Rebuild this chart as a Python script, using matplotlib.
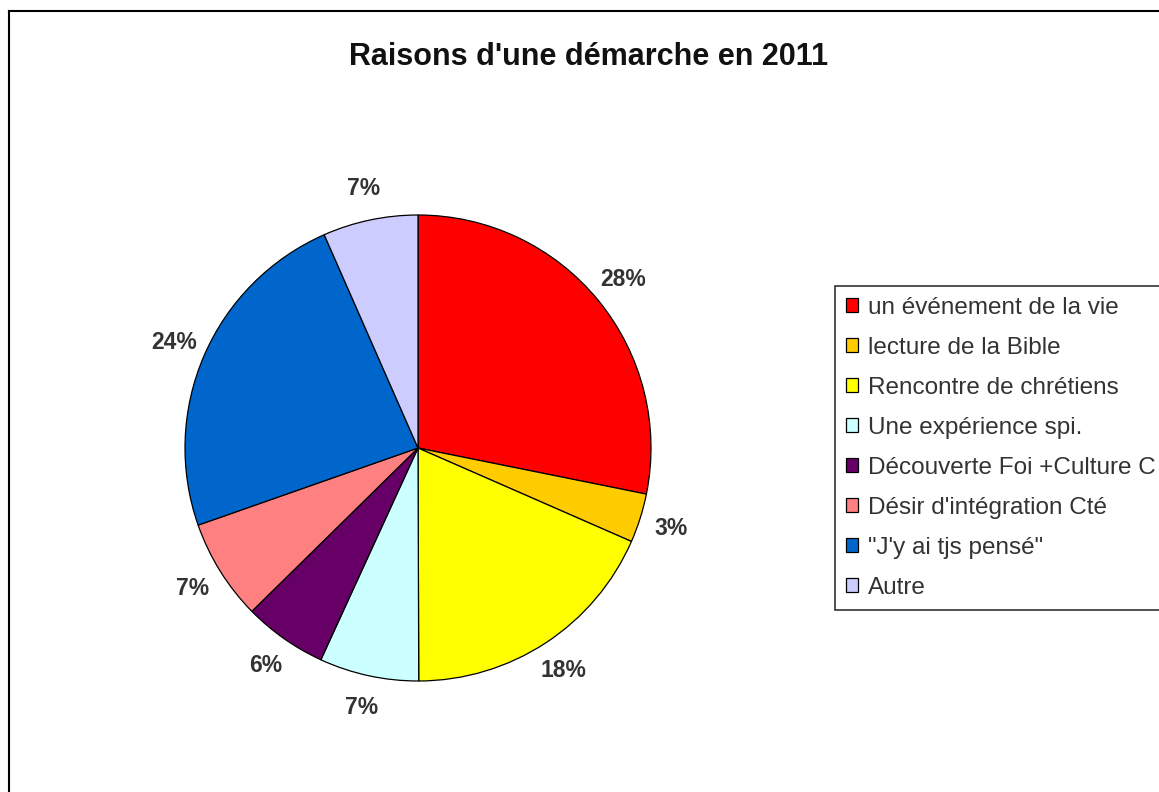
import matplotlib
matplotlib.use('Agg')
import matplotlib.pyplot as plt
from matplotlib.lines import Line2D

plt.rcParams['font.family'] = ['Liberation Sans', 'DejaVu Sans']

# Data (shares; labels show rounded values)
categories = ['un événement de la vie', 'lecture de la Bible', 'Rencontre de chrétiens',
              'Une expérience spi.', 'Découverte Foi +Culture C', "Désir d'intégration Cté",
              '"J\'y ai tjs pensé"', 'Autre']
values = [28.2, 3.4, 18.4, 6.9, 5.8, 7.0, 23.8, 6.6]
colors = ['#FF0000', '#FFCC00', '#FFFF00', '#CCFFFF', '#660066', '#FF8080', '#0066CC', '#CCCCFF']

W, H = 1159, 792
fig = plt.figure(figsize=(W / 100, H / 100), dpi=100)

# pie axes: center (418, 448) px, radius 233 px, limits +-1.4
cx, cy, r, lim = 418, 448, 233, 1.4
half = r * lim
ax = fig.add_axes([(cx - half) / W, (H - cy - half) / H, 2 * half / W, 2 * half / H])

wedges, texts, autotexts = ax.pie(
    values, colors=colors, startangle=90, counterclock=False,
    autopct='%.0f%%', pctdistance=1.14,
    wedgeprops=dict(edgecolor='black', linewidth=0.9),
    textprops=dict(fontsize=16.5, fontweight='bold', color='#333333'))
ax.set_xlim(-lim, lim)
ax.set_ylim(-lim, lim)
ax.set_aspect('equal')
ax.axis('off')

fig.suptitle("Raisons d'une démarche en 2011", x=589 / W, y=1 - 42 / H,
             fontsize=22, fontweight='bold', color='#111111')

leg = fig.legend(wedges, categories, loc='upper left',
                 bbox_to_anchor=(835 / W, 1 - 286 / H), borderaxespad=0,
                 fontsize=17.5, fancybox=False, handlelength=0.5, handleheight=0.5,
                 handletextpad=0.4, labelspacing=0.74, borderpad=0.45,
                 labelcolor='#333333')
leg.get_frame().set_edgecolor('black')
leg.get_frame().set_linewidth(1.2)

# outer frame (left and top edges visible)
fig.add_artist(Line2D([9 / W, 9 / W], [0, 1 - 11 / H], color='black', linewidth=1.5))
fig.add_artist(Line2D([9 / W, 1], [1 - 11 / H, 1 - 11 / H], color='black', linewidth=1.5))

fig.savefig('out.png', dpi=100)
